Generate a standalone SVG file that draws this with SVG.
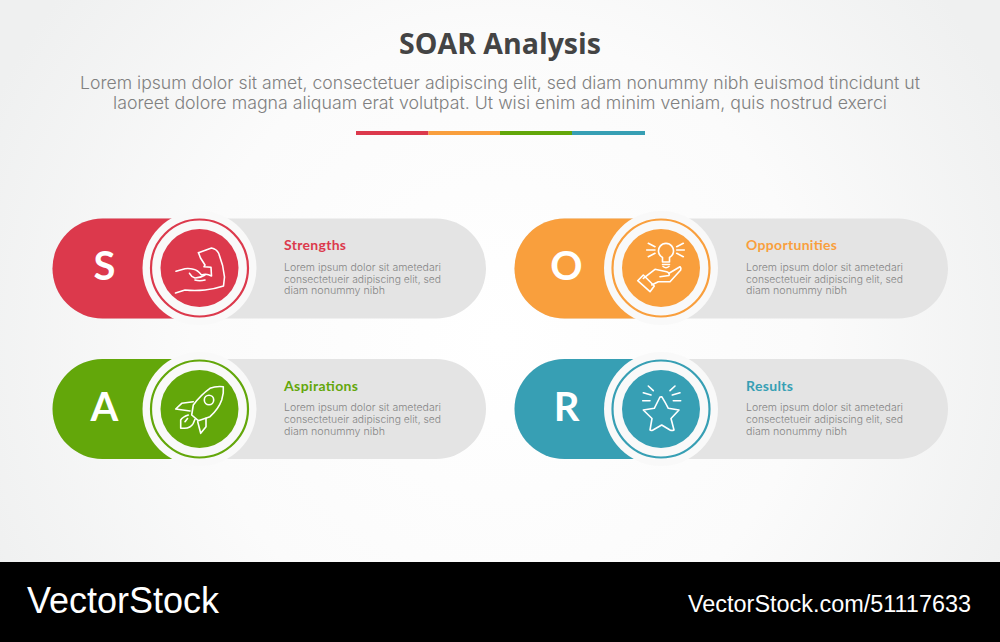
<svg xmlns="http://www.w3.org/2000/svg" width="1000" height="642" viewBox="0 0 1000 642">
<style>
.title{font:700 28.500px "Open Sans",sans-serif;fill:#444;text-anchor:middle}
.lead{font:300 17.500px Inter,"Open Sans",sans-serif;fill:#808080}
.head{font:700 14px Lato,sans-serif}
.body{font:300 10.500px Inter,"Open Sans",sans-serif;fill:#858585}
.letter{font:700 40px Lato,sans-serif;fill:#fff;text-anchor:middle}
.track{fill:#e4e4e4}
.halo{fill:#f9f9f9}
.ring{fill:none;stroke-width:2.200}
.icon{fill:none;stroke:#fff;stroke-width:1.600;stroke-linecap:round;stroke-linejoin:round}
.foot{font-family:"Liberation Sans",Arial,sans-serif;fill:#fff}
.red{fill:#dc394c}.orange{fill:#f99f3d}.green{fill:#63a70a}.teal{fill:#379fb4}
</style>
<defs>
<radialGradient id="bg" gradientUnits="userSpaceOnUse" cx="500" cy="340" r="560">
<stop offset="0" stop-color="#ffffff"/><stop offset="0.55" stop-color="#fbfbfb"/><stop offset="1" stop-color="#eff0f0"/>
</radialGradient>
</defs>
<rect width="1000" height="562" fill="url(#bg)"/>
<g id="header">
<text class="title" x="500" y="54">SOAR Analysis</text>
<text class="lead" x="80" y="89" textLength="840" lengthAdjust="spacingAndGlyphs">Lorem ipsum dolor sit amet, consectetuer adipiscing elit, sed diam nonummy nibh euismod tincidunt ut</text>
<text class="lead" x="113" y="109" textLength="774" lengthAdjust="spacingAndGlyphs">laoreet dolore magna aliquam erat volutpat. Ut wisi enim ad minim veniam, quis nostrud exerci</text>
<rect class="red" x="356" y="131" width="72.500" height="4"/>
<rect class="orange" x="428.500" y="131" width="71.500" height="4"/>
<rect class="green" x="500" y="131" width="72" height="4"/>
<rect class="teal" x="572" y="131" width="73" height="4"/>
</g>
<g id="connectors"/>
<g id="node-s">
<rect class="track" x="52.500" y="218.500" width="433.500" height="100" rx="50"/>
<path class="red" d="M200 218.500H102.500a50 50 0 0 0 0 100H200Z"/>
<circle class="halo" cx="199.500" cy="268" r="57"/>
<circle class="ring" cx="199.500" cy="268" r="48.500" stroke="#dc394c"/>
<circle class="red" cx="199.500" cy="268" r="39"/>
<text class="letter" x="104.500" y="280">S</text>
<g class="icon" transform="translate(199.500 268)">
<path d="M-1-15.300L12-20Q17-19 19-15Q24-3 25 9L24 18Q15 21 5.500 22Q-5 23-14.500 22L-24 25"/>
<path d="M-1-15.300L1-10L5.500-3L4.500-1.300L11.500-.7L12 8Q7 5 2 7Q-2 2-6 1.300Q-10 .2-14.500 .7L-23.500 3.300"/>
<path d="M-10 5.300Q-8 9-4.500 10Q1 10 5.500 7"/>
<path d="M-4.500 12Q0 13.500 5.500 12"/>
</g>
<text class="head red" x="284" y="250" textLength="62">Strengths</text>
<text class="body" x="284" y="270.500" textLength="157" lengthAdjust="spacingAndGlyphs">Lorem ipsum dolor sit ametedari</text>
<text class="body" x="284" y="282.500" textLength="157" lengthAdjust="spacingAndGlyphs">consectetueir adipiscing elit, sed</text>
<text class="body" x="284" y="294" textLength="101" lengthAdjust="spacingAndGlyphs">diam nonummy nibh</text>
</g>
<g id="node-o">
<rect class="track" x="514.500" y="218.500" width="433.500" height="100" rx="50"/>
<path class="orange" d="M662 218.500H564.500a50 50 0 0 0 0 100H662Z"/>
<circle class="halo" cx="661" cy="268" r="57"/>
<circle class="ring" cx="661" cy="268" r="48.500" stroke="#f99f3d"/>
<circle class="orange" cx="661" cy="268" r="39"/>
<text class="letter" x="566.500" y="280">O</text>
<g class="icon" transform="translate(661 268)">
<path d="M1.500-10.500A7.500 7.500 0 1 1 8.500-10.500V-6H1.500Z"/>
<path d="M1.500-3.500H8.500M2-1.500Q5 1 8-1.500"/>
<path d="M-14.300-18H-6M-12.700-24.700L-6-21.300M-12.700-11.300L-6-14.700M15.700-18H23.300M15.700-21.300L22.300-24.700M15.700-14.700L22.300-11.300"/>
<path d="M-23.300 12.700L-17.700 7L-6.700 18L-11 23.700Z"/>
<path d="M-17.700 10.300L-6 1.300L5.700 3.700Q9 5 8 7.500L-1 8.700"/>
<path d="M8 5.300L19-1.300Q20.500 0 19.700 2L9 13.700H-2.700L-9.300 17"/>
</g>
<text class="head orange" x="746" y="250" textLength="91">Opportunities</text>
<text class="body" x="746" y="270.500" textLength="157" lengthAdjust="spacingAndGlyphs">Lorem ipsum dolor sit ametedari</text>
<text class="body" x="746" y="282.500" textLength="157" lengthAdjust="spacingAndGlyphs">consectetueir adipiscing elit, sed</text>
<text class="body" x="746" y="294" textLength="101" lengthAdjust="spacingAndGlyphs">diam nonummy nibh</text>
</g>
<g id="node-a">
<rect class="track" x="52.500" y="359" width="433.500" height="100" rx="50"/>
<path class="green" d="M200 359H102.500a50 50 0 0 0 0 100H200Z"/>
<circle class="halo" cx="199.500" cy="409" r="57"/>
<circle class="ring" cx="199.500" cy="409" r="48.500" stroke="#63a70a"/>
<circle class="green" cx="199.500" cy="409" r="39"/>
<text class="letter" x="104.500" y="421">A</text>
<g class="icon" transform="translate(199.500 409)">
<path d="M23.800-22.300Q16-23 10.500-20.700Q1-14-6.200-4L-7.800 6L-1.200 11.700L10.500 7.700Q19 0 22.200-9Q24.500-16 23.800-22.300Z"/>
<circle cx="9.500" cy="-9" r="4.700"/>
<path d="M-6.200-7.300L-17.800-5.700L-23.800 0L-9.500 2"/>
<path d="M6.500 9.300V17.700L1.200 24.300L-1.800 12.700"/>
<path d="M-11.200 6Q-17 8-18.800 11V19.300H-15Q-9 19-6.200 14.300L-4.500 10.300"/>
<path d="M-14.500 12.700L-12 9.500"/>
</g>
<text class="head green" x="284" y="390.500" textLength="74">Aspirations</text>
<text class="body" x="284" y="411" textLength="157" lengthAdjust="spacingAndGlyphs">Lorem ipsum dolor sit ametedari</text>
<text class="body" x="284" y="423" textLength="157" lengthAdjust="spacingAndGlyphs">consectetueir adipiscing elit, sed</text>
<text class="body" x="284" y="434.500" textLength="101" lengthAdjust="spacingAndGlyphs">diam nonummy nibh</text>
</g>
<g id="node-r">
<rect class="track" x="514.500" y="359" width="433.500" height="100" rx="50"/>
<path class="teal" d="M662 359H564.500a50 50 0 0 0 0 100H662Z"/>
<circle class="halo" cx="661" cy="409" r="57"/>
<circle class="ring" cx="661" cy="409" r="48.500" stroke="#379fb4"/>
<circle class="teal" cx="661" cy="409" r="39"/>
<text class="letter" x="566.500" y="421">R</text>
<g class="icon" transform="translate(661 409)">
<path d="M.7-12.300L-1-12Q-4-6-6.700-.7L-17.700 1L-9 9.500L-11 21Q-10 22-8 21L.7 16L9 21Q11 22 13 21L10 9.500L18 1L7.300-.7Q4-7 .7-12.300Z"/>
<path d="M-12.700-23L-7.700-18.300M-17.700-16.300L-10-14M-18.300-8.300H-11M14-23L9-18.300M19-16.300L11.300-14M19.700-8.300H12.300"/>
</g>
<text class="head teal" x="746" y="390.500" textLength="47">Results</text>
<text class="body" x="746" y="411" textLength="157" lengthAdjust="spacingAndGlyphs">Lorem ipsum dolor sit ametedari</text>
<text class="body" x="746" y="423" textLength="157" lengthAdjust="spacingAndGlyphs">consectetueir adipiscing elit, sed</text>
<text class="body" x="746" y="434.500" textLength="101" lengthAdjust="spacingAndGlyphs">diam nonummy nibh</text>
</g>
<g id="footer">
<rect y="562" width="1000" height="80" fill="#000"/>
<text class="foot" x="27" y="613" font-size="36" textLength="192" lengthAdjust="spacingAndGlyphs">VectorStock</text>
<text class="foot" x="688" y="612" font-size="23" textLength="283" lengthAdjust="spacingAndGlyphs">VectorStock.com/51117633</text>
</g>
</svg>
